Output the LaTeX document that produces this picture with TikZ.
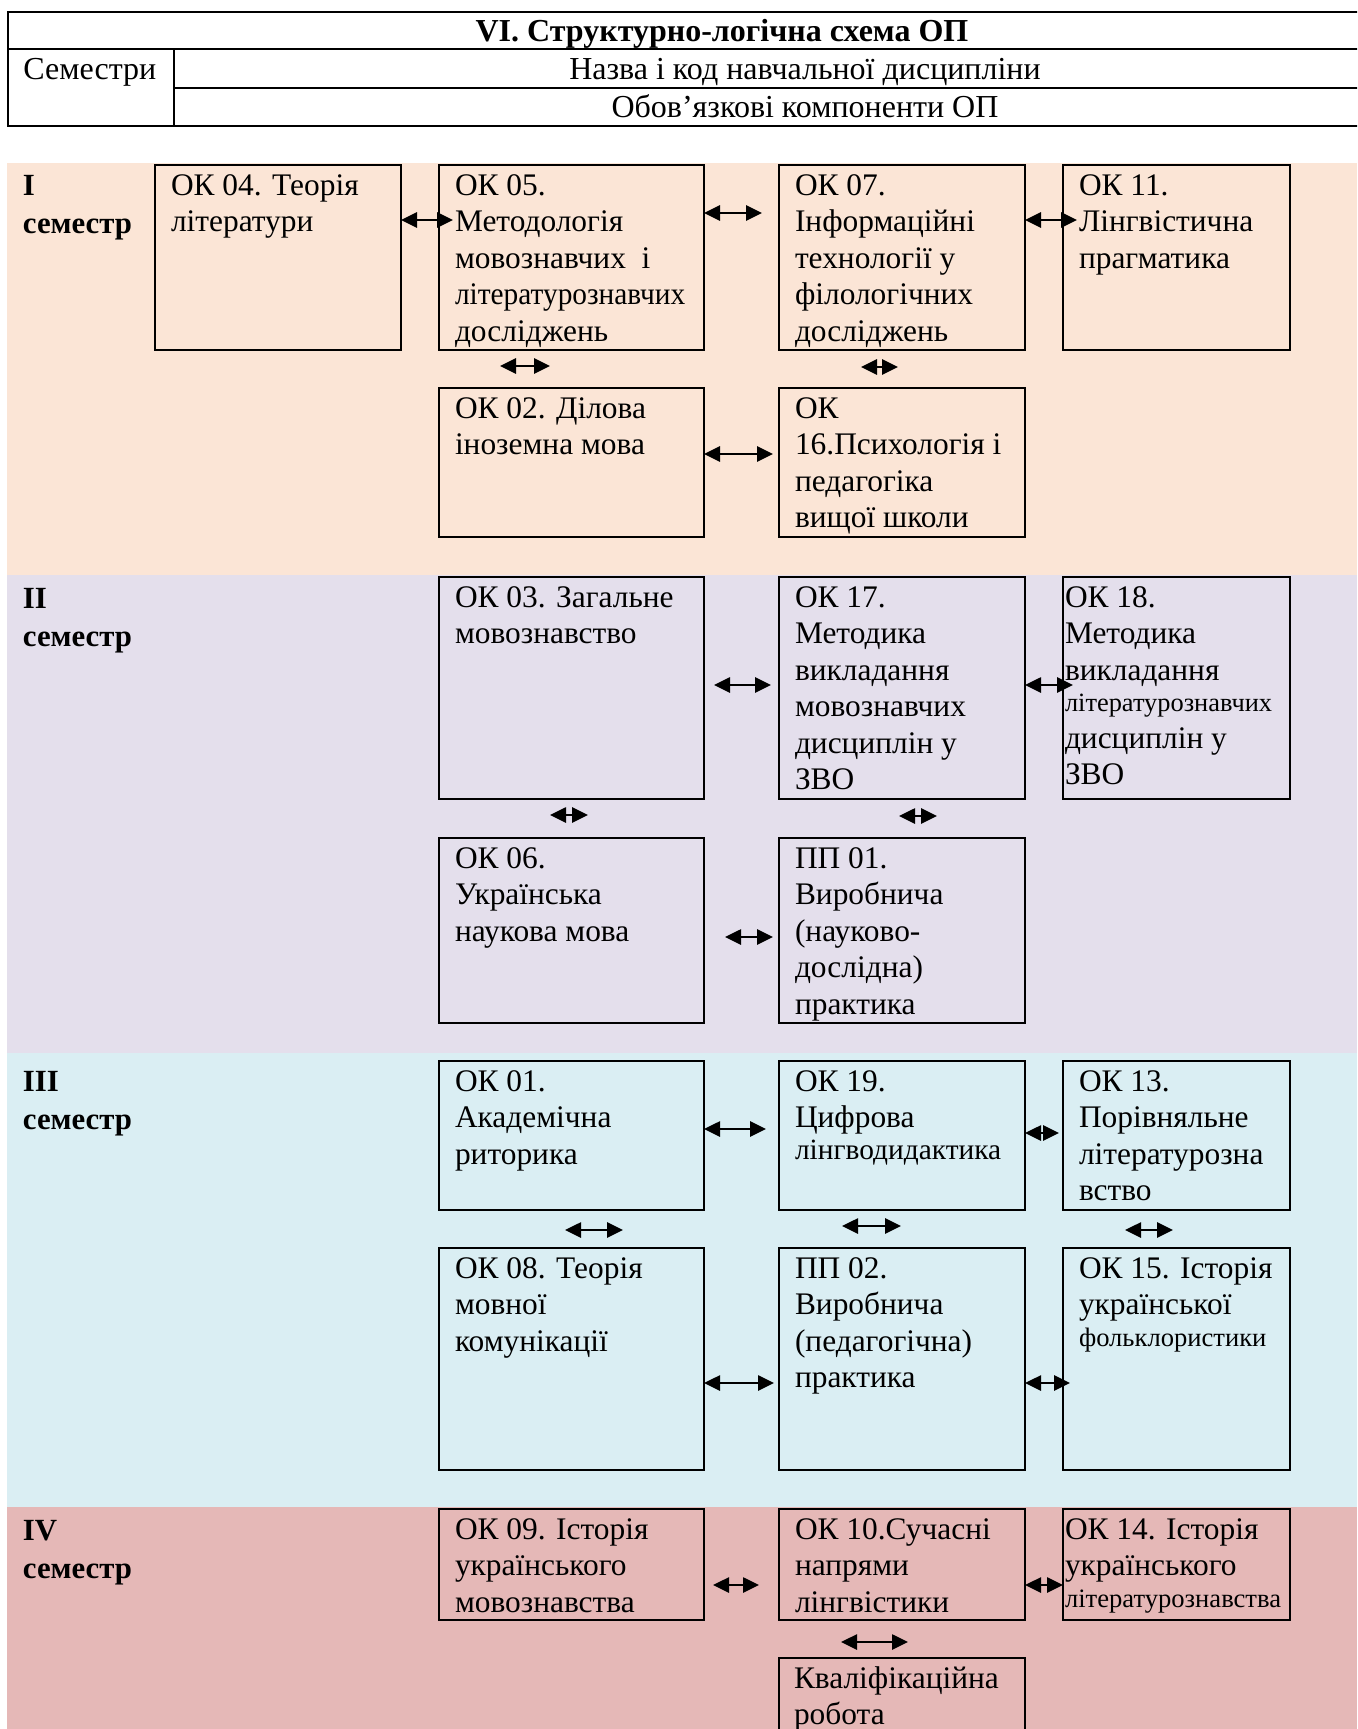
\documentclass[tikz,border=0pt]{standalone}
\usepackage{fontspec}
\usepackage{graphicx}
\setmainfont{Liberation Serif}
\usetikzlibrary{arrows.meta,calc}
\definecolor{bandI}{HTML}{FBE5D6}
\definecolor{bandII}{HTML}{E4DFEC}
\definecolor{bandIII}{HTML}{DAEEF3}
\definecolor{bandIV}{HTML}{E5B8B7}
\newcommand\nf{\fontsize{15.7pt}{18.25pt}\selectfont}
\newcommand\hf{\fontsize{16pt}{18.25pt}\selectfont}
\newcommand\smf[1]{\fontsize{#1pt}{14pt}\selectfont}
\newcommand\mkbox[5]{\node[cbx, minimum width={(#4-#2)*0.5pt}, minimum height={(#5-#3)*0.5pt}] (#1) at ({(#2+#4)/2},{(#3+#5)/2}) {};}
\newcommand\mktext[3]{\node[txt] (#1t) at ($(#1.north west)+(#2,30)$) {\parbox[t]{8cm}{\raggedright\nf #3}};}
\tikzset{
  cbx/.style={draw, line width=1pt, inner sep=0pt, outer sep=0pt, rectangle},
  txt/.style={anchor=base west, inner sep=0pt, outer sep=0pt},
  dbl/.style={{Triangle[length=8pt,width=7.5pt]}-{Triangle[length=8pt,width=7.5pt]}, line width=1.35pt},
  sem/.style={anchor=base west, inner sep=0pt, outer sep=0pt},
  hdr/.style={line width=1pt}
}
\begin{document}
\begin{tikzpicture}[x=0.5pt,y=-0.5pt]
\useasboundingbox (0,0) rectangle (1357,1729);
\clip (0,0) rectangle (1357,1729);
% header table
\draw[hdr] (1370,12) -- (8,12) -- (8,126) -- (1370,126);
\draw[hdr] (8,49) -- (1370,49);
\draw[hdr] (174,49) -- (174,126);
\draw[hdr] (174,88) -- (1370,88);
\node[anchor=base, inner sep=0pt, font={\hf\bfseries}] (title) at (722,41) {VI. Структурно-логічна схема ОП};
\node[anchor=base west, inner sep=0pt, font=\hf] (semh) at (23,79) {Семестри};
\node[anchor=base, inner sep=0pt, font=\hf] (nazva) at (805,79) {Назва і код навчальної дисципліни};
\node[anchor=base, inner sep=0pt, font=\hf] (obov) at (805,117) {Обов’язкові компоненти ОП};
% bands
\fill[bandI] (7,163) rectangle (1357,575);
\fill[bandII] (7,575) rectangle (1357,1053);
\fill[bandIII] (7,1053) rectangle (1357,1507);
\fill[bandIV] (7,1507) rectangle (1357,1729);
% semester labels
\node[sem] (s1) at (23,195) {\parbox[t]{3cm}{\fontsize{15.4pt}{19pt}\selectfont\bfseries I\\семестр}};
\node[sem] (s2) at (23,608) {\parbox[t]{3cm}{\fontsize{15.4pt}{19pt}\selectfont\bfseries II\\семестр}};
\node[sem] (s3) at (23,1091) {\parbox[t]{3cm}{\fontsize{15.4pt}{19pt}\selectfont\bfseries III\\семестр}};
\node[sem] (s4) at (23,1540) {\parbox[t]{3cm}{\fontsize{15.4pt}{19pt}\selectfont\bfseries IV\\семестр}};
% semester I
\mkbox{ok04}{155}{165}{401}{350}
\mkbox{ok05}{439}{165}{704}{350}
\mkbox{ok07}{779}{165}{1025}{350}
\mkbox{ok11}{1063}{165}{1290}{350}
\mkbox{ok02}{439}{388}{704}{537}
\mkbox{ok16}{779}{388}{1025}{537}
\mktext{ok04}{16}{ОК 04. Теорія\\літератури}
\mktext{ok05}{16}{ОК 05.\\Методологія\\мовознавчих\ \ і\\\scalebox{0.935}[1]{літературознавчих}\\досліджень}
\mktext{ok07}{16}{ОК 07.\\Інформаційні\\технології у\\філологічних\\досліджень}
\mktext{ok11}{16}{ОК 11.\\Лінгвістична\\прагматика}
\mktext{ok02}{16}{ОК 02. Ділова\\іноземна мова}
\mktext{ok16}{16}{ОК\\16.Психологія і\\педагогіка\\вищої школи}
% semester II
\mkbox{ok03}{439}{577}{704}{799}
\mkbox{ok17}{779}{577}{1025}{799}
\mkbox{ok18}{1063}{577}{1290}{799}
\mkbox{ok06}{439}{838}{704}{1023}
\mkbox{pp01}{779}{838}{1025}{1023}
\mktext{ok03}{16}{ОК 03. Загальне\\мовознавство}
\mktext{ok17}{16}{ОК 17.\\Методика\\викладання\\мовознавчих\\дисциплін у\\ЗВО}
\mktext{ok18}{2}{ОК 18.\\Методика\\викладання\\[-2.3pt]{\smf{13.2}літературознавчих}\\дисциплін у\\ЗВО}
\mktext{ok06}{16}{ОК 06.\\Українська\\наукова мова}
\mktext{pp01}{16}{ПП 01.\\Виробнича\\(науково-\\дослідна)\\практика}
% semester III
\mkbox{ok01}{439}{1061}{704}{1210}
\mkbox{ok19}{779}{1061}{1025}{1210}
\mkbox{ok13}{1063}{1061}{1290}{1210}
\mkbox{ok08}{439}{1248}{704}{1470}
\mkbox{pp02}{779}{1248}{1025}{1470}
\mkbox{ok15}{1063}{1248}{1290}{1470}
\mktext{ok01}{16}{ОК 01.\\Академічна\\риторика}
\mktext{ok19}{16}{ОК 19.\\Цифрова\\[-2.3pt]{\smf{14.7}лінгводидактика}}
\mktext{ok13}{16}{ОК 13.\\Порівняльне\\літературозна\\вство}
\mktext{ok08}{16}{ОК 08. Теорія\\мовної\\комунікації}
\mktext{pp02}{16}{ПП 02.\\Виробнича\\(педагогічна)\\практика}
\mktext{ok15}{16}{ОК 15. Історія\\української\\[-2.3pt]{\smf{13.3}фольклористики}}
% semester IV
\mkbox{ok09}{439}{1509}{704}{1620}
\mkbox{ok10}{779}{1509}{1025}{1620}
\mkbox{ok14}{1063}{1509}{1290}{1620}
\mkbox{kval}{779}{1658}{1025}{1780}
\mktext{ok09}{16}{ОК 09. Історія\\українського\\мовознавства}
\mktext{ok10}{16}{ОК 10.Сучасні\\напрями\\лінгвістики}
\mktext{ok14}{2}{ОК 14. Історія\\українського\\[-2.3pt]{\smf{13.3}літературознавства}}
\mktext{kval}{15}{Кваліфікаційна\\робота}
% connectors: side by side
\draw[dbl, shorten >=-7pt] (ok04.east |- 0,220) -- (ok05.west |- 0,220);
\draw[dbl, shorten >=8.5pt] (ok05.east |- 0,213) -- (ok07.west |- 0,213);
\draw[dbl, shorten >=-7pt] (ok07.east |- 0,220) -- (ok11.west |- 0,220);
\draw[dbl, shorten >=3pt] (ok02.east |- 0,454) -- (ok16.west |- 0,454);
\draw[dbl, shorten <=5pt, shorten >=4pt] (ok03.east |- 0,685) -- (ok17.west |- 0,685);
\draw[dbl, shorten >=-5pt] (ok17.east |- 0,685) -- (ok18.west |- 0,685);
\draw[dbl, shorten <=10.5pt, shorten >=3pt] (ok06.east |- 0,937) -- (pp01.west |- 0,937);
\draw[dbl, shorten >=6.5pt] (ok01.east |- 0,1129) -- (ok19.west |- 0,1129);
\draw[dbl, shorten >=2pt] (ok19.east |- 0,1133) -- (ok13.west |- 0,1133);
\draw[dbl, shorten >=2.5pt] (ok08.east |- 0,1383) -- (pp02.west |- 0,1383);
\draw[dbl, shorten >=-3.5pt] (pp02.east |- 0,1383) -- (ok15.west |- 0,1383);
\draw[dbl, shorten <=4.5pt, shorten >=10pt] (ok09.east |- 0,1585) -- (ok10.west |- 0,1585);
\draw[dbl] (ok10.east |- 0,1585) -- (ok14.west |- 0,1585);
% connectors: upper to lower
\draw[dbl] ($(ok05.south)!.5!(ok02.north)+(-71.5,-3)$) -- ++(50,0);
\draw[dbl] ($(ok07.south)!.5!(ok16.north)+(-41,-2)$) -- ++(37,0);
\draw[dbl] ($(ok03.south)!.5!(ok06.north)+(-21.5,-3.5)$) -- ++(38,0);
\draw[dbl] ($(ok17.south)!.5!(pp01.north)+(-3,-2.5)$) -- ++(38,0);
\draw[dbl] ($(ok01.south)!.5!(ok08.north)+(-6.5,1)$) -- ++(58,0);
\draw[dbl] ($(ok19.south)!.5!(pp02.north)+(-60,-3)$) -- ++(59,0);
\draw[dbl] ($(ok13.south)!.5!(ok15.north)+(-51.5,1)$) -- ++(48,0);
\draw[dbl] ($(ok10.south)!.5!(kval.north)+(-61,3)$) -- ++(67,0);
\end{tikzpicture}
\end{document}
